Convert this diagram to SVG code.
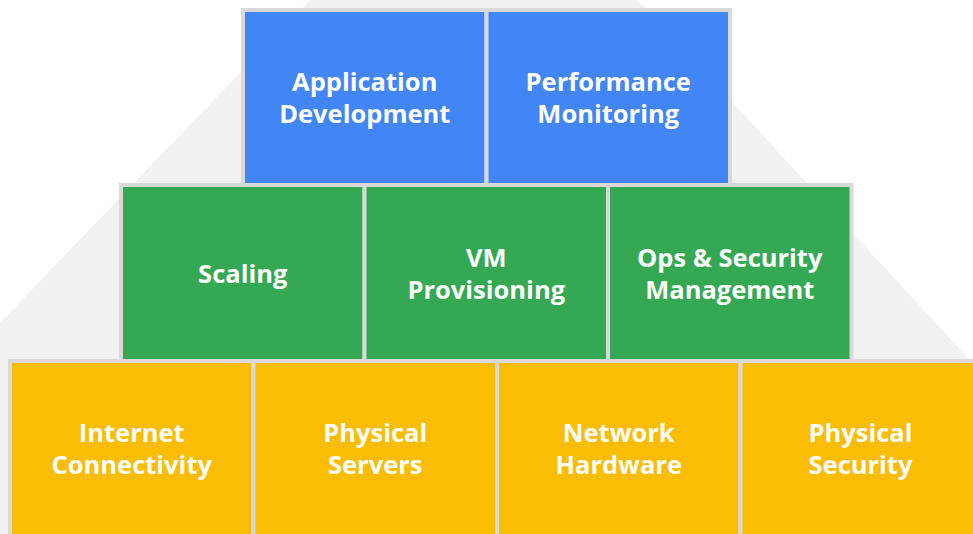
<svg xmlns="http://www.w3.org/2000/svg" width="973" height="534" viewBox="0 0 973 534">
  <style>
    .cell { stroke: #d9d9d9; stroke-width: 4; }
    .blue { fill: #4285f4; }
    .green { fill: #34a853; }
    .yellow { fill: #fbbc04; }
    .lbl { fill: #ffffff; font-family: "Open Sans", Roboto, "Liberation Sans", sans-serif; font-weight: 700; font-size: 25.5px; text-anchor: middle; }
  </style>
  <rect x="0" y="0" width="973" height="534" fill="#ffffff"/>
  <polygon points="310,0 638,0 1130,534 -203,534" fill="#f1f1f1"/>

  <g id="app-dev">
    <rect class="cell blue" x="243" y="10" width="243.5" height="175"/>
    <text class="lbl" x="364.75" y="91">Application</text>
    <text class="lbl" x="364.75" y="123">Development</text>
  </g>
  <g id="perf-mon">
    <rect class="cell blue" x="486.5" y="10" width="243.5" height="175"/>
    <text class="lbl" x="608.25" y="91">Performance</text>
    <text class="lbl" x="608.25" y="123">Monitoring</text>
  </g>

  <g id="scaling">
    <rect class="cell green" x="121" y="185" width="243.5" height="176"/>
    <text class="lbl" x="242.75" y="283">Scaling</text>
  </g>
  <g id="vm-prov">
    <rect class="cell green" x="364.5" y="185" width="243.5" height="176"/>
    <text class="lbl" x="486.25" y="267">VM</text>
    <text class="lbl" x="486.25" y="299">Provisioning</text>
  </g>
  <g id="ops-sec">
    <rect class="cell green" x="608" y="185" width="243.5" height="176"/>
    <text class="lbl" x="729.75" y="267">Ops &amp; Security</text>
    <text class="lbl" x="729.75" y="299">Management</text>
  </g>

  <g id="internet">
    <rect class="cell yellow" x="10" y="361" width="243.5" height="190"/>
    <text class="lbl" x="131.75" y="442">Internet</text>
    <text class="lbl" x="131.75" y="474">Connectivity</text>
  </g>
  <g id="phys-servers">
    <rect class="cell yellow" x="253.5" y="361" width="243.5" height="190"/>
    <text class="lbl" x="375.25" y="442">Physical</text>
    <text class="lbl" x="375.25" y="474">Servers</text>
  </g>
  <g id="net-hw">
    <rect class="cell yellow" x="497" y="361" width="243.5" height="190"/>
    <text class="lbl" x="618.75" y="442">Network</text>
    <text class="lbl" x="618.75" y="474">Hardware</text>
  </g>
  <g id="phys-sec">
    <rect class="cell yellow" x="740.5" y="361" width="243.5" height="190"/>
    <text class="lbl" x="860.5" y="442">Physical</text>
    <text class="lbl" x="860.5" y="474">Security</text>
  </g>
</svg>
